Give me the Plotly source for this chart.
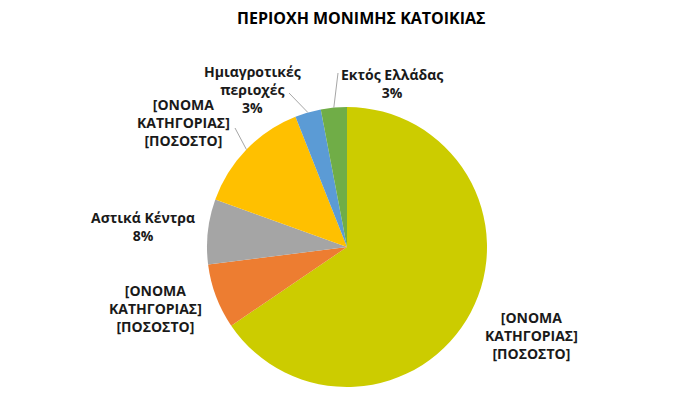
import math
import plotly.graph_objects as go

# ---- data ----
categories = ["[ΟΝΟΜΑ ΚΑΤΗΓΟΡΙΑΣ] a", "[ΟΝΟΜΑ ΚΑΤΗΓΟΡΙΑΣ] b", "Αστικά Κέντρα",
              "[ΟΝΟΜΑ ΚΑΤΗΓΟΡΙΑΣ] c", "Ημιαγροτικές περιοχές", "Εκτός Ελλάδας"]
values = [65.5, 7.5, 7.5, 13.5, 3.0, 3.0]
label_texts = [
    "[ΟΝΟΜΑ<br>ΚΑΤΗΓΟΡΙΑΣ]<br>[ΠΟΣΟΣΤΟ]",
    "[ΟΝΟΜΑ<br>ΚΑΤΗΓΟΡΙΑΣ]<br>[ΠΟΣΟΣΤΟ]",
    "Αστικά Κέντρα<br>8%",
    "[ΟΝΟΜΑ<br>ΚΑΤΗΓΟΡΙΑΣ]<br>[ΠΟΣΟΣΤΟ]",
    "Ημιαγροτικές<br>περιοχές<br>3%",
    "Εκτός Ελλάδας<br>3%",
]
title_text = "ΠΕΡΙΟΧΗ ΜΟΝΙΜΗΣ ΚΑΤΟΙΚΙΑΣ"

# ---- style ----
colors = ["#CCCC00", "#ED7D31", "#A5A5A5", "#FFC000", "#5B9BD5", "#70AD47"]
W, H = 700, 412
PAGE_OFF = 8  # default body margin of the html page
CX, CY, R = 347, 247, 140
# label centres (pixel offsets from pie centre) and leader-line label ends
label_offsets = [(184, 88), (-192, 61), (-204, -21), (-164, -125), (-94, -158), (45, -164)]
leader_ends = [None, None, None, (-112, -119), (-58, -154), (-9, -174)]
FONT = "Open Sans"


def px(x, y):
    return (x - PAGE_OFF) / W, 1 - (y - PAGE_OFF) / H


fig = go.Figure()
d0 = px(CX - R, CY + R)
d1 = px(CX + R, CY - R)
fig.add_trace(go.Pie(
    labels=categories, values=values, sort=False, direction="clockwise",
    rotation=0, textinfo="none", hoverinfo="label+percent",
    marker=dict(colors=colors, line=dict(width=0)),
    domain=dict(x=[d0[0], d1[0]], y=[d0[1], d1[1]]),
    showlegend=False,
))

annotations = []
shapes = []
total = sum(values)
cum = 0.0
for i, v in enumerate(values):
    mid = (cum + v / 2) / total * 2 * math.pi
    cum += v
    lx, ly = CX + label_offsets[i][0], CY + label_offsets[i][1]
    ax_, ay_ = px(lx, ly)
    annotations.append(dict(
        x=ax_, y=ay_, xref="paper", yref="paper", text="<b>" + label_texts[i] + "</b>",
        showarrow=False, xanchor="center", yanchor="middle", align="center",
        font=dict(family=FONT, size=14, color="#1a1a1a"),
    ))
    if leader_ends[i] is not None:
        ex, ey = CX + R * math.sin(mid), CY - R * math.cos(mid)
        sx, sy = CX + leader_ends[i][0], CY + leader_ends[i][1]
        x0, y0 = px(sx, sy)
        x1, y1 = px(ex, ey)
        shapes.append(dict(type="line", xref="paper", yref="paper",
                           x0=x0, y0=y0, x1=x1, y1=y1,
                           line=dict(color="#A6A6A6", width=1)))

tx, ty = px(361, 18)
annotations.append(dict(x=tx, y=ty, xref="paper", yref="paper", text="<b>" + title_text + "</b>",
                        showarrow=False, xanchor="center", yanchor="middle",
                        font=dict(family=FONT, size=16, color="#000000")))

fig.update_layout(
    width=W, height=H, margin=dict(l=0, r=0, t=0, b=0),
    paper_bgcolor="white", plot_bgcolor="white",
    annotations=annotations, shapes=shapes,
)
fig.write_html("out.html")
